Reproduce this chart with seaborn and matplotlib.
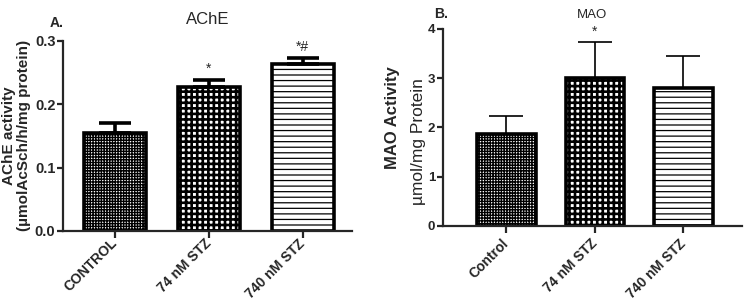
#!/usr/bin/env python3

import numpy as np
import seaborn as sns
import matplotlib.pyplot as plt

sns.set_style('ticks')
plt.rcParams['font.family'] = ['Liberation Sans', 'DejaVu Sans']
plt.rcParams['hatch.color'] = 'black'
plt.rcParams['hatch.linewidth'] = 1.2

# panel A: AChE
ache_groups = ['CONTROL', '74 nM STZ', '740 nM STZ']
ache_mean = [0.155, 0.227, 0.264]
ache_err = [0.016, 0.012, 0.009]
ache_marks = ['', '*', '*#']

# panel B: MAO
mao_groups = ['Control', '74 nM STZ', '740 nM STZ']
mao_mean = [1.86, 3.00, 2.80]
mao_err = [0.37, 0.73, 0.65]
mao_marks = ['', '*', '']

hatches = ['++++++', '+++', '---']
hatch_lw = [1.0, 1.9, 0.9]

fig = plt.figure(figsize=(7.44, 3.05), dpi=100)
ax_a = fig.add_axes([0.0847, 0.243, 0.389, 0.623])
ax_b = fig.add_axes([0.595, 0.26, 0.402, 0.645])


def panel(ax, groups, mean, err, marks, cap_lw, cap, ylim, yticks, fmt,
          ysize, xpad):
    sns.barplot(x=groups, y=mean, ax=ax, color='white', edgecolor='black',
                linewidth=2.6, width=0.66, errorbar=None)
    for p, h, lw in zip(ax.patches, hatches, hatch_lw):
        p.set_hatch(h)
        if hasattr(p, 'set_hatch_linewidth'):
            p.set_hatch_linewidth(lw)
    x = np.arange(len(groups))
    ax.errorbar(x, mean, yerr=[np.zeros(len(err)), err], fmt='none',
                ecolor='black', elinewidth=cap_lw, capsize=cap,
                capthick=cap_lw, zorder=1)
    for xi, m, e, s in zip(x, mean, err, marks):
        if s:
            ax.text(xi, m + e + (ylim[1] * 0.02), s, ha='center', va='bottom',
                    fontsize=10)
    ax.set_ylim(*ylim)
    ax.set_yticks(yticks)
    ax.set_yticklabels([fmt.format(v) for v in yticks])
    sns.despine(ax=ax)
    for s in ('left', 'bottom'):
        ax.spines[s].set_linewidth(1.6)
    ax.tick_params(axis='y', width=1.6, length=4, labelsize=ysize, pad=1.5)
    ax.tick_params(axis='x', width=1.6, length=5, labelsize=10, pad=xpad)
    for lab in ax.get_yticklabels():
        lab.set_fontweight('bold')
    for lab in ax.get_xticklabels():
        lab.set_fontweight('bold')
        lab.set_rotation(45)
        lab.set_rotation_mode('anchor')
        lab.set_ha('right')
        lab.set_va('center')


panel(ax_a, ache_groups, ache_mean, ache_err, ache_marks, 2.6, 11.5,
      (0, 0.3), [0.0, 0.1, 0.2, 0.3], '{:.1f}', 10.5, 2.5)
ax_a.set_xlim(-0.553, 2.53)
ax_a.set_ylabel('AChE activity\n(µmolAcSch/h/mg protein)', fontsize=11,
                fontweight='bold', labelpad=3, linespacing=1.05)
ax_a.set_title('AChE', fontsize=12, pad=12)
fig.text(0.067, 0.926, 'A.', fontsize=10, fontweight='bold', ha='left', va='center')

panel(ax_b, mao_groups, mao_mean, mao_err, mao_marks, 1.2, 12,
      (0, 4), [0, 1, 2, 3, 4], '{:d}', 9.5, 6.5)
ax_b.set_xlim(-0.72, 2.66)
ax_b.text(-0.167, 0.548, 'MAO Activity', rotation=90, fontsize=12,
          fontweight='bold', ha='center', va='center', transform=ax_b.transAxes)
ax_b.text(-0.08, 0.426, 'µmol/mg Protein', rotation=90, fontsize=12.5,
          ha='center', va='center', transform=ax_b.transAxes)
ax_b.set_title('MAO', fontsize=9.5, pad=8)
fig.text(0.584, 0.955, 'B.', fontsize=10, fontweight='bold', ha='left', va='center')

plt.savefig('out.png', dpi=100)
